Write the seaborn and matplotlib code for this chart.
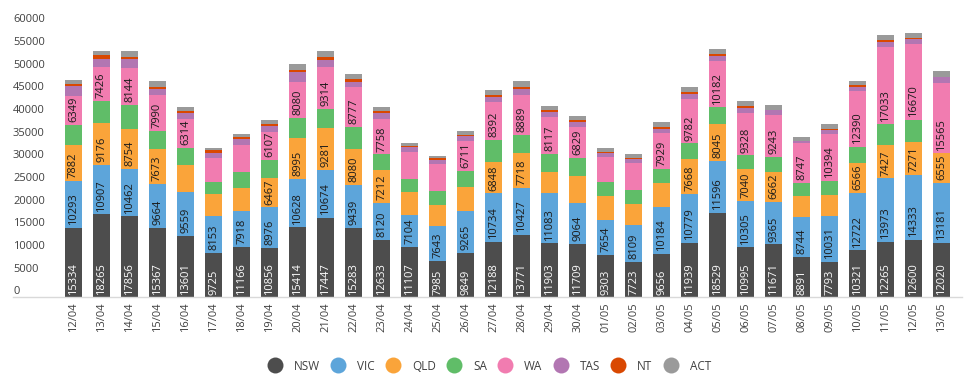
import numpy as np
import pandas as pd
import matplotlib
matplotlib.use("Agg")
import matplotlib.pyplot as plt
from matplotlib.lines import Line2D
import seaborn as sns

dates = ['12/04', '13/04', '14/04', '15/04', '16/04', '17/04', '18/04', '19/04',
         '20/04', '21/04', '22/04', '23/04', '24/04', '25/04', '26/04', '27/04',
         '28/04', '29/04', '30/04', '01/05', '02/05', '03/05', '04/05', '05/05',
         '06/05', '07/05', '08/05', '09/05', '10/05', '11/05', '12/05', '13/05']

nsw = [15334, 18265, 17856, 15367, 13601, 9725, 11166, 10856, 15414, 17447, 15283, 12633,
       11107, 7985, 9849, 12188, 13771, 11903, 11709, 9303, 7723, 9656, 11939, 18529,
       10995, 11671, 8891, 7793, 10321, 12265, 12600, 12020]
vic = [10293, 10907, 10462, 9664, 9559, 8153, 7918, 8976, 10628, 10674, 9439, 8120,
       7104, 7643, 9265, 10734, 10427, 11083, 9064, 7654, 8109, 10184, 10779, 11596,
       10305, 9365, 8744, 10031, 12722, 13973, 14333, 13181]
qld = [7882, 9176, 8754, 7673, 5950, 4900, 5100, 6467, 8995, 9281, 8080, 7212,
       4900, 4700, 5100, 6848, 7718, 4700, 6000, 5300, 4700, 5300, 7668, 8045,
       7040, 6662, 4600, 4700, 6566, 7427, 7271, 6555]
sa = [4450, 5000, 5300, 4000, 3800, 2700, 3550, 4000, 4450, 4150, 4750, 3550,
      2950, 3200, 3600, 4900, 3850, 4000, 4000, 3100, 3100, 3100, 3550, 3700,
      2950, 3250, 2950, 3100, 3550, 4450, 4900, 0]
wa = [6349, 7426, 8144, 7990, 6314, 5300, 5800, 6107, 8080, 9314, 8777, 7758,
      5900, 5800, 6711, 8392, 8889, 8117, 6829, 5600, 6050, 7929, 9782, 10182,
      9328, 9243, 8747, 10394, 12390, 17033, 16670, 15565]
tas = [2200, 1800, 2050, 1250, 1350, 1100, 1400, 1350, 2050, 1550, 1050, 1350,
       1200, 900, 1050, 1050, 1200, 1050, 1050, 900, 900, 900, 1200, 1050,
       1050, 1050, 450, 900, 900, 1050, 1200, 1200]
nt = [450, 900, 450, 500, 450, 500, 450, 450, 450, 650, 750, 450,
      300, 450, 300, 600, 600, 450, 450, 150, 150, 450, 450, 450,
      450, 150, 150, 300, 450, 450, 150, 0]
act = [1050, 900, 1200, 1200, 900, 600, 600, 900, 1350, 1200, 1050, 900,
       600, 450, 900, 1050, 1200, 900, 900, 900, 900, 1200, 1050, 1200,
       1200, 1050, 750, 900, 900, 1200, 1200, 1350]

states = ['NSW', 'VIC', 'QLD', 'SA', 'WA', 'TAS', 'NT', 'ACT']
colors = ['#4d4d4d', '#5da5da', '#faa43a', '#60bd68', '#f17cb0', '#b276b2', '#d94801', '#9a9a9a']

df = pd.DataFrame({'date': dates, 'NSW': nsw, 'VIC': vic, 'QLD': qld, 'SA': sa,
                   'WA': wa, 'TAS': tas, 'NT': nt, 'ACT': act})
cum = df[states].cumsum(axis=1)
cum['date'] = df['date']

sns.set_theme(style='white')
plt.rcParams['font.family'] = ['Open Sans', 'DejaVu Sans']
text_color = '#404040'

fig = plt.figure(figsize=(9.71, 3.80), dpi=100)
ax = fig.add_axes([13 / 971, (380 - 297.3) / 380, (962 - 13) / 971, (297.3 - 10) / 380])

# stacked bars: draw cumulative totals from the top layer down
for state, col in reversed(list(zip(states, colors))):
    sns.barplot(data=cum, x='date', y=state, color=col, saturation=1, width=0.6,
                linewidth=0, errorbar=None, ax=ax)

# value labels, anchored at the base of each segment
bottoms = cum[states].values - df[states].values
for j, state in enumerate(states):
    for i, v in enumerate(df[state]):
        if v >= 6100:
            ax.annotate(str(v), (i, bottoms[i, j]), xytext=(0, 2), textcoords='offset points',
                        rotation=90, ha='center', va='bottom', fontsize=8,
                        color='white' if state == 'NSW' else '#1a1a1a')

ax.set_xlim(-2.16, 31.72)
ax.set_ylim(0, 63350)
ax.set_yticks(np.arange(0, 60001, 5000))
ax.set_xlabel('')
ax.set_ylabel('')
ax.tick_params(axis='y', length=0, pad=0, labelsize=8, labelcolor=text_color)
ax.tick_params(axis='x', length=0, pad=4, labelsize=8, labelcolor=text_color, rotation=90)
for lab in ax.get_yticklabels():
    lab.set_ha('left')
    lab.set_va('bottom')

for s in ['left', 'top', 'right']:
    ax.spines[s].set_visible(False)
ax.spines['bottom'].set_color('#d9d9d9')
ax.spines['bottom'].set_linewidth(1)

handles = [Line2D([], [], marker='o', linestyle='none', markersize=11.5,
                  markerfacecolor=c, markeredgewidth=0) for c in colors]
leg = fig.legend(handles, states, loc='center', bbox_to_anchor=(490 / 971, 14 / 380),
                 ncol=8, frameon=False, fontsize=8.5, handlelength=1.0,
                 handletextpad=1.1, columnspacing=1.05)
for t in leg.get_texts():
    t.set_color(text_color)

fig.savefig('out.png', dpi=100)
